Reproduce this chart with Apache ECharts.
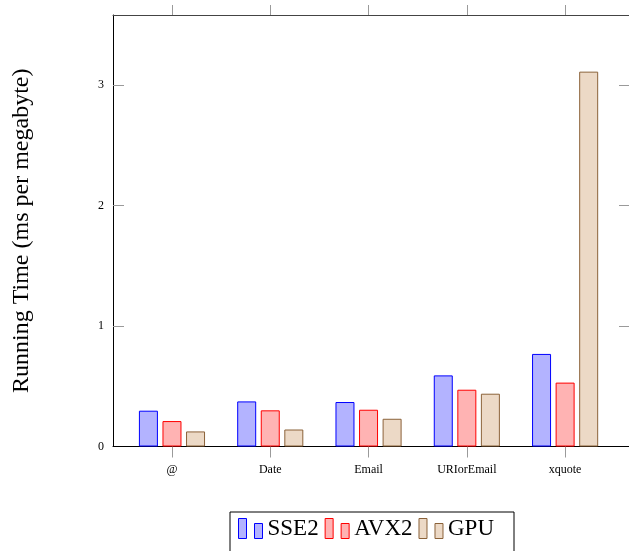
<!DOCTYPE html>
<html>
<head>
<meta charset="utf-8">
<script src="https://cdn.jsdelivr.net/npm/echarts@6/dist/echarts.min.js"></script>
<style>
  html, body { margin: 0; padding: 0; background: #fff; }
  #box { width: 629px; height: 551px; }
</style>
</head>
<body>
<div id="box"></div>
<script>
// categories and values (ms per megabyte)
let categories = ['@', 'Date', 'Email', 'URIorEmail', 'xquote'];
let sse2 = [0.297, 0.374, 0.369, 0.590, 0.768];
let avx2 = [0.211, 0.300, 0.305, 0.471, 0.530];
let gpu = [0.125, 0.141, 0.230, 0.438, 3.110];
let yLabels = [0, 1, 2, 3];
let yTicks = [1, 2, 3]; // the tick at 0 would sit on top of the black bottom line
let xTicks = [0, 1, 2, 3, 4];

let serif = '"Liberation Serif", "Times New Roman", serif';

let chart = echarts.init(document.getElementById('box'));

// bars sit on a value axis so the frame can stick out past the last group
function toPoints(arr) {
    return arr.map(function (v, i) { return [i, v]; });
}

function barSeries(name, values, fill, border) {
    return {
        name: name,
        type: 'bar',
        data: toPoints(values),
        barWidth: 19,
        barGap: '24%',
        itemStyle: {
            color: fill,
            borderColor: border,
            borderWidth: 1
        }
    };
}

let tickStyle = { color: '#9a9a9a', width: 1 };

let option = {
    backgroundColor: '#fff',
    animation: false,
    grid: {
        left: 113,
        top: 15,
        width: 517,
        bottom: 104.5
    },
    legend: {
        left: 230,
        top: 512,
        padding: [5, 20, 20, 8],
        borderColor: '#000',
        borderWidth: 1,
        itemWidth: 24,
        itemHeight: 20,
        itemGap: 6,
        icon: 'path://M0,0H8V20H0Z M16,5H24V20H16Z',
        itemStyle: { borderWidth: 1 },
        textStyle: { fontFamily: serif, fontSize: 23, color: '#000' },
        data: ['SSE2', 'AVX2', 'GPU']
    },
    xAxis: [{
        type: 'value',
        min: -0.6,
        max: 4.65,
        position: 'bottom',
        splitLine: { show: false },
        axisLine: { show: true, onZero: false, lineStyle: { color: '#000', width: 1 } },
        axisTick: { show: true, inside: false, length: 11, lineStyle: tickStyle, customValues: xTicks },
        axisLabel: {
            customValues: xTicks,
            margin: 17,
            fontFamily: serif,
            fontSize: 12,
            color: '#000',
            formatter: function (v) { return categories[v]; }
        }
    }, {
        type: 'value',
        min: -0.6,
        max: 4.65,
        position: 'top',
        splitLine: { show: false },
        axisLine: { show: true, onZero: false, lineStyle: { color: '#444', width: 1 } },
        axisTick: { show: true, inside: false, length: 10, lineStyle: tickStyle, customValues: xTicks },
        axisLabel: { show: false }
    }],
    yAxis: [{
        type: 'value',
        min: 0,
        max: 3.58,
        position: 'left',
        name: 'Running Time (ms per megabyte)',
        nameLocation: 'middle',
        nameGap: 79,
        nameRotate: 90,
        nameTextStyle: { fontFamily: serif, fontSize: 24, color: '#000' },
        splitLine: { show: false },
        axisLine: { show: true, onZero: false, lineStyle: { color: '#000', width: 1 } },
        axisTick: { show: true, inside: true, length: 11, lineStyle: tickStyle, customValues: yTicks },
        axisLabel: {
            customValues: yLabels,
            margin: 9,
            fontFamily: serif,
            fontSize: 12,
            color: '#000'
        }
    }, {
        type: 'value',
        min: 0,
        max: 3.58,
        position: 'right',
        splitLine: { show: false },
        axisLine: { show: true, onZero: false, lineStyle: { color: '#000', width: 1 } },
        axisTick: { show: true, inside: true, length: 10, lineStyle: tickStyle, customValues: yTicks },
        axisLabel: { show: false }
    }],
    series: [
        barSeries('SSE2', sse2, '#b3b3ff', '#0000ff'),
        barSeries('AVX2', avx2, '#ffb3b3', '#ff0000'),
        barSeries('GPU', gpu, '#ecd9c6', '#8b6239')
    ]
};

chart.setOption(option);
</script>
</body>
</html>
